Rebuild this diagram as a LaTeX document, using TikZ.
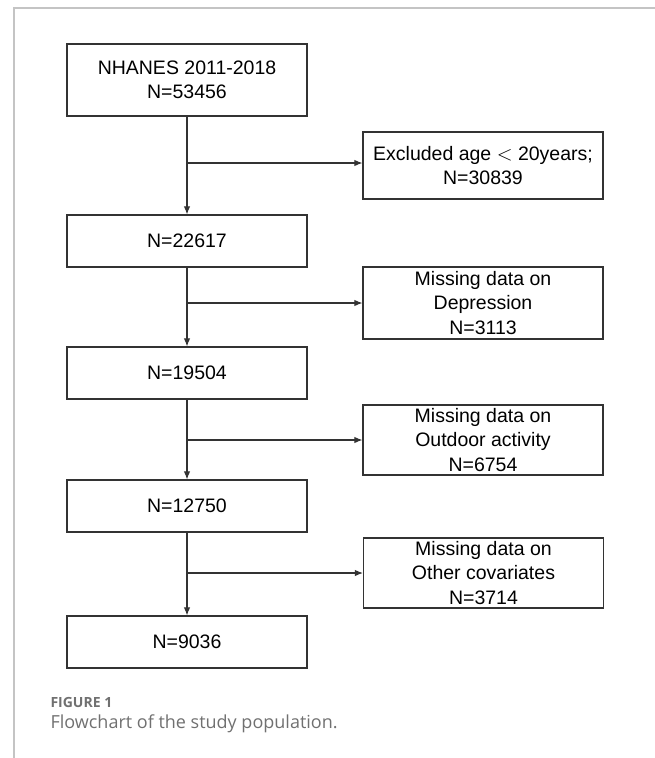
\documentclass[tikz,border=0pt]{standalone}
\usepackage{fontspec}
\setmainfont{Liberation Sans}
\newfontfamily\captionfont{Open Sans}
\usetikzlibrary{arrows.meta,calc}
\definecolor{framegray}{HTML}{C4C4C4}
\definecolor{capgray}{HTML}{707070}
\definecolor{boxline}{HTML}{333333}
\begin{document}
\begin{tikzpicture}[x=1pt,y=-1pt,
	box/.style={draw=boxline, line width=1.2pt, minimum width=240pt, inner sep=0pt, align=center, font=\fontsize{19.5}{24.5}\selectfont},
	flow/.style={->, line width=1.1pt, draw=boxline, >={Latex[length=8pt,width=6.5pt]}}]
			\useasboundingbox (0,0) rectangle (655,758);
			\draw[framegray, line width=1.5pt] (14,758) -- (14,8) -- (655,8);
			\draw (187,80) node[box, minimum height=72pt] (A) {NHANES 2011-2018\\N=53456};
			\draw (187,241) node[box, minimum height=52pt] (B) {N=22617};
			\draw (187,373) node[box, minimum height=52pt] (C) {N=19504};
			\draw (187,506) node[box, minimum height=52pt] (D) {N=12750};
			\draw (187,642) node[box, minimum height=52pt] (E) {N=9036};
			\draw (483,165.5) node[box, minimum height=67pt] (X1) {Excluded age {$<$} 20years;\\N=30839};
			\draw (483,303) node[box, minimum height=72pt] (X2) {Missing data on\\Depression\\N=3113};
			\draw (483,440) node[box, minimum height=70pt] (X3) {Missing data on\\Outdoor activity\\N=6754};
			\draw (483.5,573) node[box, minimum height=70pt] (X4) {Missing data on\\Other covariates\\N=3714};
			\coordinate (b1) at (187,163);
			\coordinate (b2) at (187,303);
			\coordinate (b3) at (187,440);
			\coordinate (b4) at (187,573);
			\draw[flow] (A) -- (B);
			\draw[flow] (B) -- (C);
			\draw[flow] (C) -- (D);
			\draw[flow] (D) -- (E);
			\draw[flow] (b1) -- (b1 -| X1.west);
			\draw[flow] (b2) -- (b2 -| X2.west);
			\draw[flow] (b3) -- (b3 -| X3.west);
			\draw[flow] (b4) -- (b4 -| X4.west);
			\draw (47,702) node[anchor=west, text=capgray, font=\captionfont\bfseries\fontsize{14}{16}\selectfont] (F) {FIGURE 1};
			\draw (47,724) node[anchor=west, text=capgray, font=\captionfont\fontsize{18}{21}\selectfont] (G) {Flowchart of the study population.};
		\end{tikzpicture}
\end{document}
